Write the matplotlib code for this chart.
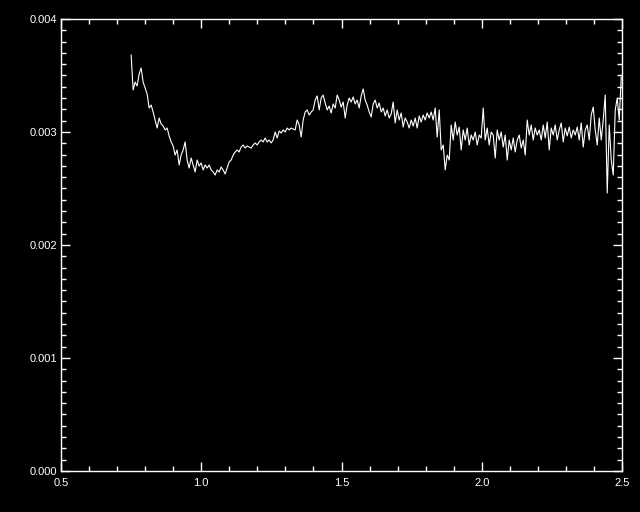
import numpy as np
import matplotlib
matplotlib.use('Agg')
import matplotlib.pyplot as plt
from matplotlib.ticker import MultipleLocator, FormatStrFormatter

# wavelength grid (regular sampling) and flux, in units of 1e-3
x_start = 0.75
x_end = 2.497
flux_e3 = [
    3.681, 3.372, 3.442, 3.407, 3.513, 3.566, 3.442, 3.389, 3.336, 3.212,
    3.239, 3.177, 3.106, 3.035, 3.124, 3.071, 3.053, 3.018, 3.035, 2.965,
    2.912, 2.876, 2.796, 2.841, 2.708, 2.796, 2.841, 2.912, 2.752, 2.681,
    2.770, 2.708, 2.646, 2.752, 2.699, 2.726, 2.664, 2.708, 2.681, 2.708,
    2.664, 2.646, 2.619, 2.664, 2.646, 2.690, 2.664, 2.628, 2.681, 2.735,
    2.752, 2.796, 2.823, 2.841, 2.823, 2.867, 2.885, 2.858, 2.876, 2.867,
    2.858, 2.885, 2.903, 2.885, 2.912, 2.929, 2.912, 2.947, 2.912, 2.929,
    2.903, 2.929, 3.000, 2.947, 3.009, 2.991, 3.018, 3.000, 3.035, 3.018,
    3.035, 3.027, 3.018, 3.106, 3.062, 2.956, 3.106, 3.177, 3.195, 3.150,
    3.177, 3.195, 3.283, 3.319, 3.195, 3.301, 3.327, 3.257, 3.195, 3.230,
    3.168, 3.248, 3.212, 3.327, 3.283, 3.221, 3.265, 3.124, 3.239, 3.301,
    3.265, 3.310, 3.248, 3.283, 3.212, 3.319, 3.381, 3.283, 3.239, 3.177,
    3.133, 3.248, 3.283, 3.212, 3.257, 3.177, 3.212, 3.142, 3.195, 3.124,
    3.159, 3.265, 3.080, 3.195, 3.106, 3.168, 3.044, 3.124, 3.088, 3.035,
    3.106, 3.053, 3.124, 3.035, 3.142, 3.088, 3.150, 3.106, 3.168, 3.124,
    3.177, 3.106, 3.212, 2.956, 3.195, 2.841, 2.885, 2.664, 2.796, 2.752,
    3.062, 2.929, 3.088, 2.973, 3.044, 2.841, 3.018, 2.929, 3.035, 2.885,
    2.973, 2.929, 3.000, 2.885, 2.973, 2.947, 3.212, 2.929, 3.035, 2.885,
    3.000, 2.973, 2.770, 3.018, 2.929, 3.000, 2.867, 2.973, 2.752, 2.929,
    2.841, 2.947, 2.823, 2.929, 2.973, 2.858, 2.929, 2.796, 3.106, 2.973,
    3.062, 2.929, 3.035, 2.973, 3.018, 2.929, 3.062, 2.947, 3.088, 2.841,
    3.035, 2.973, 3.062, 2.929, 3.018, 3.080, 2.912, 3.035, 2.965, 3.044,
    2.947, 3.018, 2.973, 3.044, 2.929, 3.080, 2.867, 3.018, 3.062, 2.929,
    3.150, 3.221, 3.018, 2.885, 3.124, 2.929, 3.106, 3.327, 2.460, 3.062,
    2.752, 2.619, 3.195, 3.301, 3.106, 3.487,
]

x_ticks = [0.5, 1.0, 1.5, 2.0, 2.5]
y_ticks = [0.000, 0.001, 0.002, 0.003, 0.004]

flux = np.array(flux_e3) * 1e-3
wave = np.linspace(x_start, x_end, len(flux))

fig = plt.figure(figsize=(6.4, 5.12), dpi=100, facecolor='black')
ax = fig.add_axes([0.0953, 0.0801, 0.8767, 0.8828], facecolor='black')

ax.plot(wave, flux, color='white', linewidth=0.8)

ax.set_xlim(0.5, 2.5)
ax.set_ylim(0.0, 0.004)
ax.set_xticks(x_ticks)
ax.set_yticks(y_ticks)
ax.xaxis.set_minor_locator(MultipleLocator(0.1))
ax.yaxis.set_minor_locator(MultipleLocator(0.0001))
ax.xaxis.set_major_formatter(FormatStrFormatter('%.1f'))
ax.yaxis.set_major_formatter(FormatStrFormatter('%.3f'))

for spine in ax.spines.values():
    spine.set_color('white')
    spine.set_linewidth(1.0)

ax.tick_params(which='both', direction='in', colors='white',
               top=True, right=True, width=1.0)
ax.tick_params(which='major', length=6.5)
ax.tick_params(which='minor', length=3.8)
ax.tick_params(axis='x', which='major', pad=5)
ax.tick_params(axis='y', which='major', pad=3)
for lab in ax.get_xticklabels() + ax.get_yticklabels():
    lab.set_family('Liberation Sans')
    lab.set_fontsize(8)
    lab.set_color('white')

fig.savefig('out.png', dpi=100, facecolor='black')
